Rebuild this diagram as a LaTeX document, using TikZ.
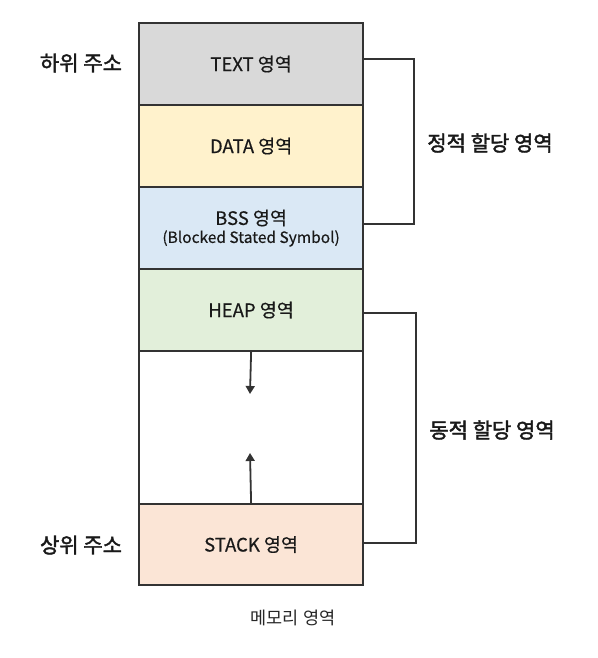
\documentclass[tikz,border=0pt]{standalone}
\usepackage{fontspec}
\setmainfont{Noto Sans CJK KR}[FakeBold=0.4]
\newfontfamily\kobold{Noto Sans CJK KR}[FakeBold=2]
\newfontfamily\kothin{Noto Sans CJK KR}
\usetikzlibrary{arrows.meta}
\definecolor{linec}{HTML}{333333}
\definecolor{textc}{HTML}{D9D9D9}
\definecolor{datac}{HTML}{FFF2CC}
\definecolor{bssc}{HTML}{DAE8F5}
\definecolor{heapc}{HTML}{E2EFDA}
\definecolor{stackc}{HTML}{FBE5D6}
\tikzset{
  seg/.style={draw=linec, line width=2.2pt, minimum width=224pt, inner sep=0pt, anchor=north west, font=\fontsize{18.5}{21}\selectfont, text=black!90},
  brack/.style={draw=linec, line width=1.8pt},
  side/.style={font=\kobold\fontsize{21}{23}\selectfont, text=black!90},
  growarrow/.style={draw=linec, line width=1.8pt, -{Triangle[length=8pt,width=9pt]}}
}
\begin{document}
\begin{tikzpicture}[x=1pt,y=-1pt]
\useasboundingbox (0,0) rectangle (597,658);
\node[seg, fill=textc, minimum height=82pt] (text) at (138,22) {TEXT 영역};
\node[seg, fill=datac, minimum height=82pt] (data) at (138,104) {DATA 영역};
\node[seg, fill=bssc, minimum height=82pt, align=center] (bss) at (138,186) {BSS 영역\\[-3pt]{\fontsize{15.5}{17}\selectfont (Blocked Stated Symbol)}};
\node[seg, fill=heapc, minimum height=82pt] (heap) at (138,268) {HEAP 영역};
\node[seg, fill=white, minimum height=153pt] (free) at (138,350) {};
\node[seg, fill=stackc, minimum height=81pt] (stack) at (138,503) {STACK 영역};
\coordinate (hd) at (250,394);
\coordinate (su) at (250,453);
\draw[growarrow] (heap.south) -- (hd);
\draw[growarrow] (stack.north) -- (su);
\coordinate (b1a) at (362,59);
\coordinate (b1b) at (414,59);
\coordinate (b1c) at (414,224);
\coordinate (b1d) at (362,224);
\draw[brack] (b1a) -- (b1b) -- (b1c) -- (b1d);
\coordinate (b2a) at (362,313);
\coordinate (b2b) at (416,313);
\coordinate (b2c) at (416,543);
\coordinate (b2d) at (362,543);
\draw[brack] (b2a) -- (b2b) -- (b2c) -- (b2d);
\node[side] (st) at (490,143) {정적 할당 영역};
\node[side] (dy) at (492,430) {동적 할당 영역};
\node[side] (lo) at (81,63) {하위 주소};
\node[side] (hi) at (81,545) {상위 주소};
\node[font=\kothin\fontsize{17.5}{19}\selectfont, text=black!85] (cap) at (293,618) {메모리 영역};
\end{tikzpicture}
\end{document}
